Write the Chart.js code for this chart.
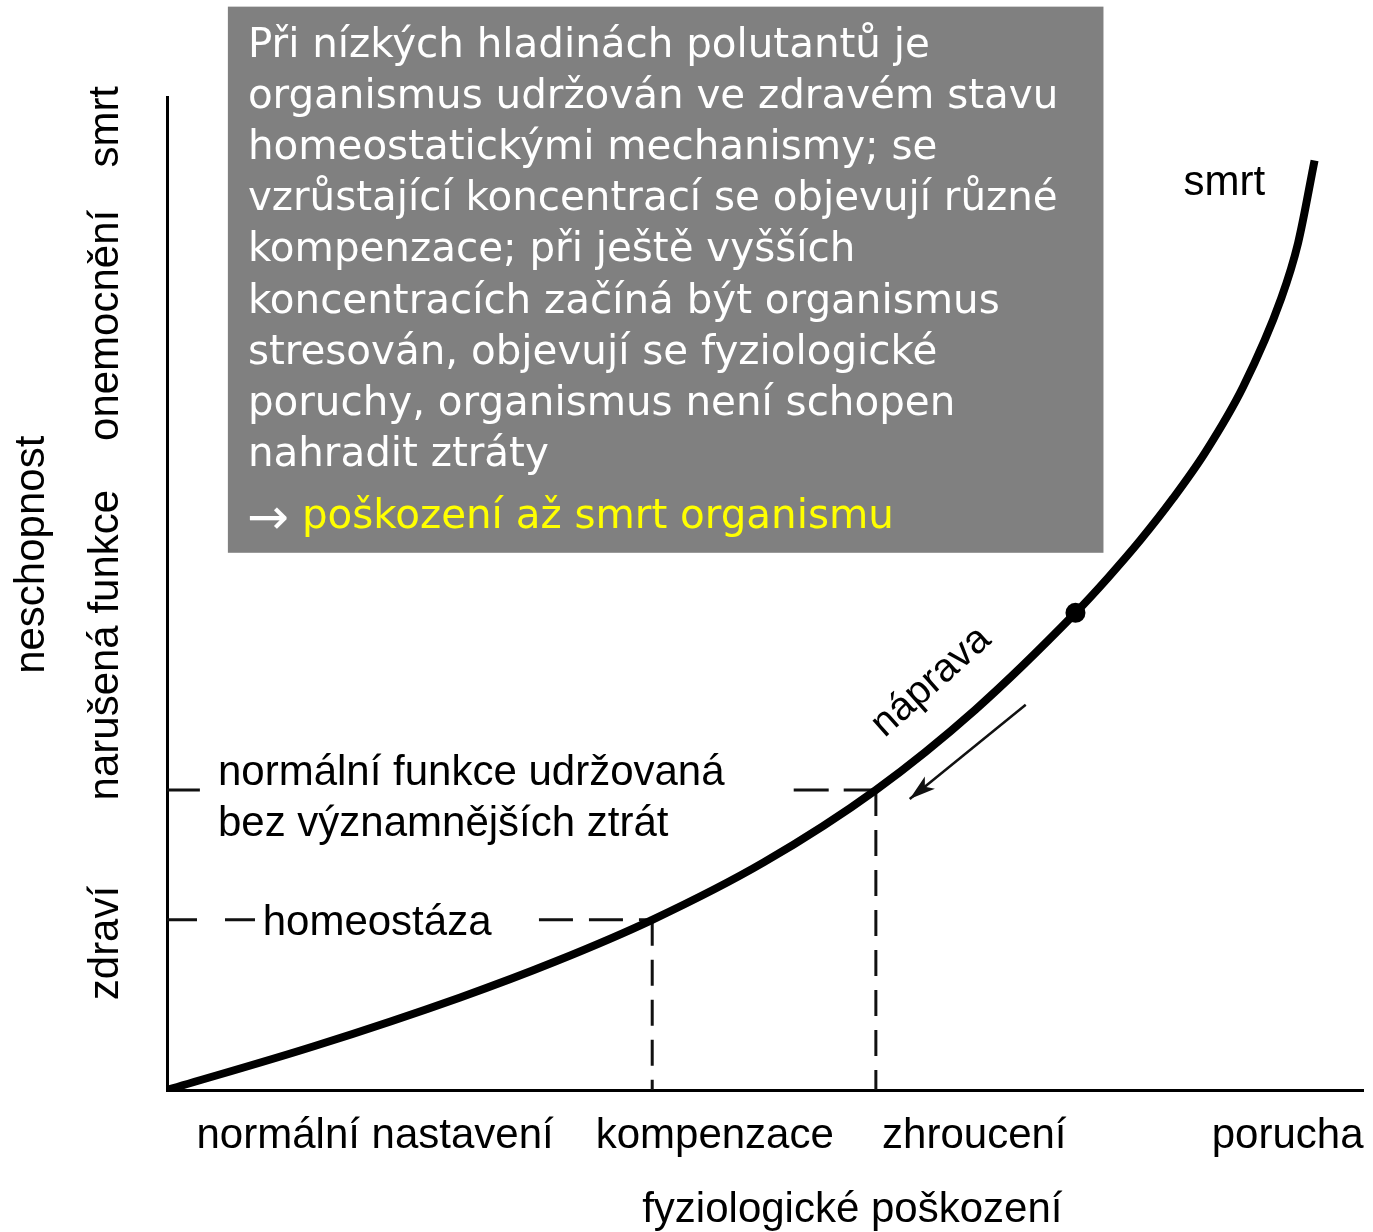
<!DOCTYPE html>
<html>
<head>
<meta charset="utf-8">
<script src="https://cdn.jsdelivr.net/npm/chart.js@4.4.0/dist/chart.umd.min.js"></script>
<style>
  html, body { margin: 0; padding: 0; background: #fff; }
  #wrap { width: 1373px; height: 1232px; }
</style>
</head>
<body>
<div id="wrap"><canvas id="damageChart" width="1373" height="1232"></canvas></div>
<script>
// Both axes run 0..100 (pollutant level -> state of the organism)
const curveX = [0, 12.35, 24.46, 32.47, 40.57, 49.92, 59.27, 67.61, 75.96, 78.71,
                81.39, 84.14, 86.81, 89.98, 93.16, 94.57, 95.95];
const curveY = [0, 4.43, 9.30, 12.94, 17.14, 22.95, 30.22, 38.33, 48.05, 51.63,
                55.38, 59.62, 64.21, 70.82, 79.72, 85.29, 93.6];
const dotIndex = 8; // the marked point on the curve

// reference levels (dashed lines)
const homeoX = 40.57, homeoY = 17.14;
const normalX = 59.27, normalY = 30.22;

// "náprava" arrow (start, end)
const arrowX = [71.8, 62.1];
const arrowY = [38.8, 29.3];

// category labels under the x axis and beside the y axis
const xLabels = ['normální nastavení', 'kompenzace', 'zhroucení', 'porucha'];
const xLabelPos = [17.4, 45.8, 67.5, 93.7];
const yLabels = ['zdraví', 'narušená funkce', 'onemocnění', 'smrt'];
const yLabelPos = [14.8, 44.8, 77.0, 97.0];
const xTitle = 'fyziologické poškození';
const xTitlePos = 57.3;
const yTitle = 'neschopnost';
const yTitlePos = 53.9;

// text inside the grey box
const boxLines = [
    'Při nízkých hladinách polutantů je',
    'organismus udržován ve zdravém stavu',
    'homeostatickými mechanismy; se',
    'vzrůstající koncentrací se objevují různé',
    'kompenzace; při ještě vyšších',
    'koncentracích začíná být organismus',
    'stresován, objevují se fyziologické',
    'poruchy, organismus není schopen',
    'nahradit ztráty'
];
const boxConclusion = 'poškození až smrt organismu';

const FONT = "'Liberation Sans', Arial, sans-serif";
const BOX_FONT = "'Comic Sans MS', 'DejaVu Sans', sans-serif";

function pts(xs, ys) {
    return xs.map((x, i) => ({ x: x, y: ys[i] }));
}

function dashed(xs, ys, dash) {
    return {
        data: pts(xs, ys),
        showLine: true,
        borderColor: '#111',
        borderWidth: 3,
        borderDash: dash,
        pointRadius: 0
    };
}

// Text, arrowhead and the grey box are drawn on top of the datasets
const annotationPlugin = {
    id: 'annotations',
    afterDatasetsDraw: function(chart) {
        const ctx = chart.ctx;
        const xs = chart.scales.x;
        const ys = chart.scales.y;
        const area = chart.chartArea;
        const px = v => xs.getPixelForValue(v);
        const py = v => ys.getPixelForValue(v);

        ctx.save();

        // arrowhead at the end of the "náprava" arrow
        const x0 = px(arrowX[0]), y0 = py(arrowY[0]);
        const x1 = px(arrowX[1]), y1 = py(arrowY[1]);
        const ang = Math.atan2(y1 - y0, x1 - x0);
        const len = 26, half = 8;
        ctx.fillStyle = '#111';
        ctx.beginPath();
        ctx.moveTo(x1, y1);
        ctx.lineTo(x1 - len * Math.cos(ang) + half * Math.sin(ang), y1 - len * Math.sin(ang) - half * Math.cos(ang));
        ctx.lineTo(x1 - len * 0.75 * Math.cos(ang), y1 - len * 0.75 * Math.sin(ang));
        ctx.lineTo(x1 - len * Math.cos(ang) - half * Math.sin(ang), y1 - len * Math.sin(ang) + half * Math.cos(ang));
        ctx.closePath();
        ctx.fill();

        ctx.fillStyle = '#000';
        ctx.font = '42px ' + FONT;

        // x labels
        ctx.textAlign = 'center';
        ctx.textBaseline = 'alphabetic';
        xLabels.forEach((label, i) => {
            ctx.fillText(label, px(xLabelPos[i]), area.bottom + 58);
        });
        ctx.fillText(xTitle, px(xTitlePos), area.bottom + 132);

        // y labels, rotated
        yLabels.forEach((label, i) => {
            ctx.save();
            ctx.translate(area.left - 49, py(yLabelPos[i]));
            ctx.rotate(-Math.PI / 2);
            ctx.fillText(label, 0, 0);
            ctx.restore();
        });
        ctx.save();
        ctx.translate(area.left - 123, py(yTitlePos));
        ctx.rotate(-Math.PI / 2);
        ctx.fillText(yTitle, 0, 0);
        ctx.restore();

        // labels inside the plot
        ctx.textAlign = 'left';
        ctx.fillText('smrt', px(85.0), py(90.1));
        ctx.fillText('homeostáza', px(8.0), py(15.6));
        ctx.fillText('normální funkce udržovaná', px(4.26), py(30.7));
        ctx.fillText('bez významnějších ztrát', px(4.26), py(25.6));

        ctx.save();
        ctx.translate(px(63.9), py(41.1));
        ctx.rotate(-41.7 * Math.PI / 180);
        ctx.textAlign = 'center';
        ctx.textBaseline = 'middle';
        ctx.font = '40px ' + FONT;
        ctx.fillText('náprava', 0, 0);
        ctx.restore();

        // grey explanation box
        const bx = px(5.09), by = py(109.1);
        const bw = px(78.3) - bx, bh = py(54.1) - by;
        ctx.fillStyle = '#808080';
        ctx.fillRect(bx, by, bw, bh);

        // fit the box font so the widest line is ~810px
        ctx.font = '40px ' + BOX_FONT;
        const widest = Math.max.apply(null, boxLines.map(l => ctx.measureText(l).width));
        const size = Math.min(44, 40 * 810 / widest);
        ctx.font = size.toFixed(1) + 'px ' + BOX_FONT;
        ctx.textAlign = 'left';
        ctx.textBaseline = 'alphabetic';
        ctx.fillStyle = '#fff';
        boxLines.forEach((line, i) => {
            ctx.fillText(line, bx + 20, by + 50 + i * 51.2);
        });
        ctx.font = "50px 'DejaVu Sans', sans-serif";
        ctx.fillText('→', bx + 19, by + 527);
        ctx.font = size.toFixed(1) + 'px ' + BOX_FONT;
        ctx.fillStyle = '#ffff00';
        ctx.fillText(boxConclusion, bx + 74, by + 521);

        ctx.restore();
    }
};

const canvas = document.getElementById('damageChart');
if (canvas) {
    const ctx = canvas.getContext('2d');
    const damageChart = new Chart(ctx, {
        type: 'scatter',
        data: {
            datasets: [
                {
                    data: pts(curveX, curveY),
                    showLine: true,
                    borderColor: '#000',
                    borderWidth: 8,
                    pointRadius: 0,
                    cubicInterpolationMode: 'monotone'
                },
                {
                    data: [{ x: curveX[dotIndex], y: curveY[dotIndex] }],
                    pointRadius: 10,
                    backgroundColor: '#000',
                    borderWidth: 0
                },
                {
                    data: pts(arrowX, arrowY),
                    showLine: true,
                    borderColor: '#111',
                    borderWidth: 2.5,
                    pointRadius: 0
                },
                dashed([0, 8.0], [homeoY, homeoY], [30, 28]),
                dashed([31.1, homeoX], [homeoY, homeoY], [34, 16]),
                dashed([homeoX, homeoX], [homeoY, 0], [26, 14]),
                dashed([0, 2.75], [normalY, normalY], [40, 10]),
                dashed([52.4, normalX], [normalY, normalY], [35, 15]),
                dashed([normalX, normalX], [normalY, 0], [26, 14])
            ]
        },
        options: {
            responsive: false,
            animation: false,
            layout: { padding: { left: 167, right: 8, top: 97, bottom: 142 } },
            plugins: {
                legend: { display: false },
                tooltip: { enabled: false }
            },
            scales: {
                x: {
                    type: 'linear', min: 0, max: 100,
                    grid: { display: false, drawTicks: false },
                    ticks: { display: false },
                    border: { display: true, color: '#000', width: 3 }
                },
                y: {
                    type: 'linear', min: 0, max: 100,
                    grid: { display: false, drawTicks: false },
                    ticks: { display: false },
                    border: { display: true, color: '#000', width: 3 }
                }
            }
        },
        plugins: [annotationPlugin]
    });
} else {
    console.error('Canvas element not found!');
}
</script>
</body>
</html>
